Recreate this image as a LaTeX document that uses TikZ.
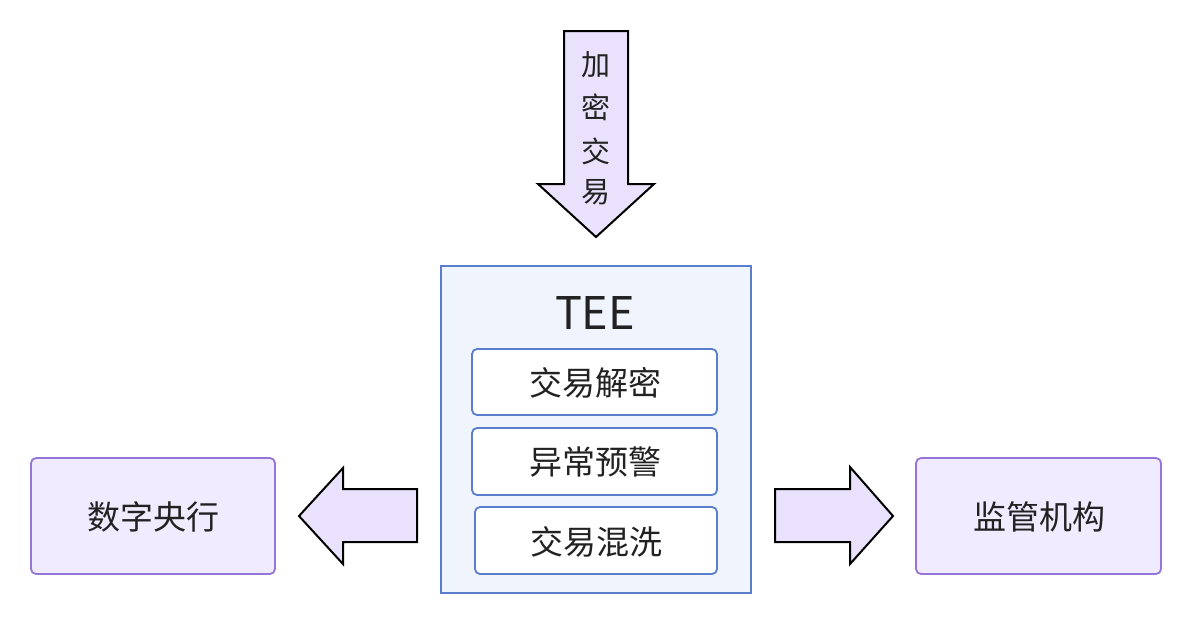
\documentclass[tikz,border=0pt]{standalone}
\usepackage{fontspec}
\setmainfont{Noto Sans CJK SC}
\newfontfamily\cjk{Noto Sans CJK SC}
\definecolor{arrowfill}{HTML}{EAE2FD}
\definecolor{boxfill}{HTML}{F0EBFE}
\definecolor{boxline}{HTML}{9575D6}
\definecolor{teefill}{HTML}{F0F4FD}
\definecolor{teeline}{HTML}{5A7ECB}
\definecolor{txt}{HTML}{222222}
\begin{document}
\begin{tikzpicture}[x=1pt,y=-1pt,
  bigarrow/.style={draw=black,line width=2pt,fill=arrowfill,line join=miter},
  outerbox/.style={draw=boxline,line width=1.8pt,fill=boxfill,rounded corners=5pt},
  innerbox/.style={draw=teeline,line width=1.8pt,fill=white,rounded corners=5pt},
  teebox/.style={draw=teeline,line width=1.8pt,fill=teefill},
  lbl/.style={text=txt,font=\cjk\fontsize{33}{36}\selectfont,inner sep=0pt},
  vlbl/.style={text=txt,font=\cjk\fontsize{29}{32}\selectfont,inner sep=0pt}]
\useasboundingbox (0,0) rectangle (1193,625);
% down arrow
\draw[bigarrow] (564,31) -- (628,31) -- (628,184) -- (654,184) -- (596,237) -- (538,184) -- (564,184) -- cycle;
\node[vlbl] (t1) at (596,65) {加};
\node[vlbl] (t2) at (596,107) {密};
\node[vlbl] (t3) at (596,151) {交};
\node[vlbl] (t4) at (596,192) {易};
% TEE
\draw[teebox] (441,266) rectangle (751,593);
\node[text=txt,font=\fontsize{45}{48}\selectfont,inner sep=0pt] (tee) at (595,313) {TEE};
\draw[innerbox] (472,349) rectangle (717,415);
\node[lbl] (a) at (595,383) {交易解密};
\draw[innerbox] (472,428) rectangle (717,495);
\node[lbl] (b) at (595,462) {异常预警};
\draw[innerbox] (475,507) rectangle (717,574);
\node[lbl] (c) at (596,542) {交易混洗};
% left
\draw[outerbox] (31,458) rectangle (275,574);
\node[lbl] (l) at (153,517) {数字央行};
\draw[bigarrow] (417,489) -- (343,489) -- (343,468) -- (299,516) -- (343,564) -- (343,542) -- (417,542) -- cycle;
% right
\draw[outerbox] (916,458) rectangle (1161,574);
\node[lbl] (r) at (1039,517) {监管机构};
\draw[bigarrow] (775,489) -- (850,489) -- (850,467) -- (893,516) -- (850,564) -- (850,542) -- (775,542) -- cycle;
\end{tikzpicture}
\end{document}
